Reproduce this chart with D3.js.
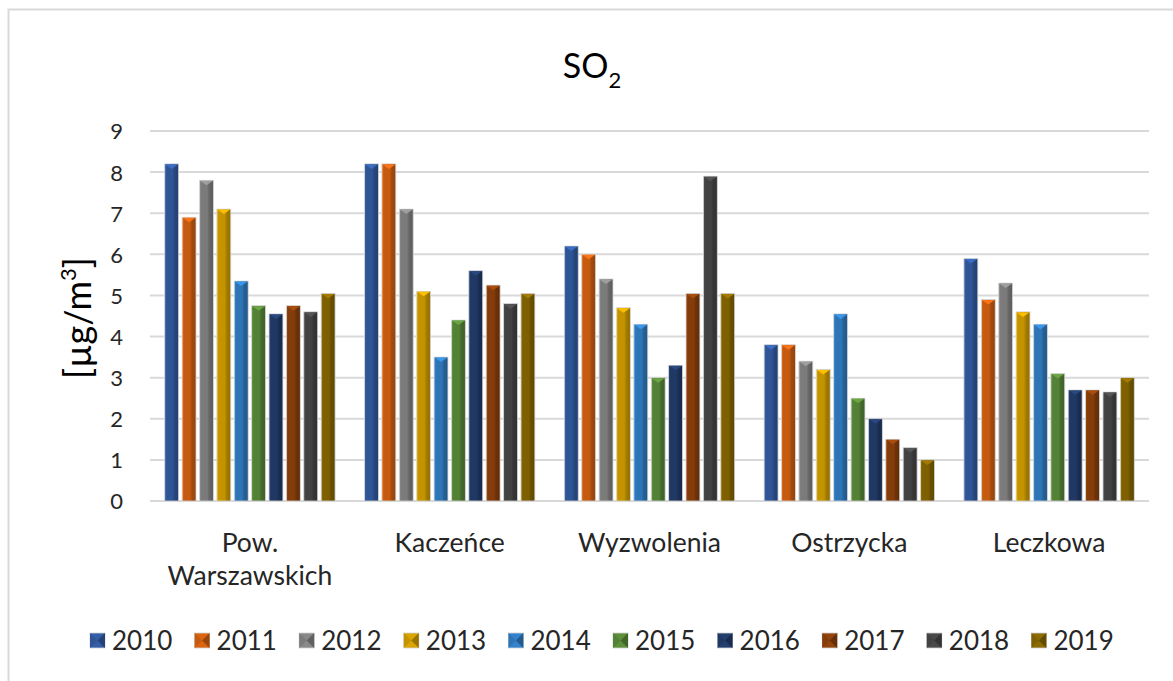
<!DOCTYPE html>
<html>
<head>
<meta charset="utf-8">
<script src="https://cdn.jsdelivr.net/npm/d3@7"></script>
<style>
html,body{margin:0;padding:0;background:#fff;}
svg{display:block;font-family:Lato, "Open Sans", sans-serif;}
</style>
</head>
<body>
<svg id="chart" width="1173" height="681"></svg>
<script>
// ---- data ----
const categories = ["Pow. Warszawskich", "Kaczeńce", "Wyzwolenia", "Ostrzycka", "Leczkowa"];
const years = ["2010","2011","2012","2013","2014","2015","2016","2017","2018","2019"];
const s2010 = [8.2, 8.2, 6.2, 3.8, 5.9];
const s2011 = [6.9, 8.2, 6.0, 3.8, 4.9];
const s2012 = [7.8, 7.1, 5.4, 3.4, 5.3];
const s2013 = [7.1, 5.1, 4.7, 3.2, 4.6];
const s2014 = [5.35, 3.5, 4.3, 4.55, 4.3];
const s2015 = [4.75, 4.4, 3.0, 2.5, 3.1];
const s2016 = [4.55, 5.6, 3.3, 2.0, 2.7];
const s2017 = [4.75, 5.25, 5.05, 1.5, 2.7];
const s2018 = [4.6, 4.8, 7.9, 1.3, 2.65];
const s2019 = [5.05, 5.05, 5.05, 1.0, 3.0];
const seriesValues = [s2010, s2011, s2012, s2013, s2014, s2015, s2016, s2017, s2018, s2019];
const colors = ["#2F5597","#C55A11","#7B7B7B","#C49400","#2E75B6","#538135","#203864","#843C0B","#424242","#7F6000"];
const yTicks = [0,1,2,3,4,5,6,7,8,9];

// ---- build ----
const svg = d3.select("#chart");
const defs = svg.append("defs");

// outer border
svg.append("rect").attr("x", 8.5).attr("y", 9.5).attr("width", 1200).attr("height", 700)
  .attr("fill", "none").attr("stroke", "#d9d9d9").attr("stroke-width", 2);

const x0 = d3.scaleBand().domain(categories).range([150, 1149]).paddingInner(0.13).paddingOuter(0.065);
const x1 = d3.scaleBand().domain(years).range([0, x0.bandwidth()]).paddingInner(0.2).paddingOuter(0.1);
const y = d3.scaleLinear().domain([0, 9]).range([501, 131]);

// gradients
years.forEach((yr, i) => {
  const c = d3.color(colors[i]);
  const g = defs.append("linearGradient").attr("id", "g" + yr)
    .attr("x1", "0%").attr("x2", "100%").attr("y1", "0%").attr("y2", "0%");
  [[0, c.brighter(0.5)], [0.14, c], [0.55, c], [0.72, c.darker(0.55)], [1, c.darker(0.8)]]
    .forEach(([o, col]) => g.append("stop").attr("offset", o).attr("stop-color", col.formatHex()));
});

// gridlines
const grid = svg.append("g").attr("class", "grid");
grid.selectAll("line").data(yTicks).join("line")
  .attr("x1", 150).attr("x2", 1149)
  .attr("y1", d => y(d)).attr("y2", d => y(d))
  .attr("stroke", "#d9d9d9").attr("stroke-width", 2);

// y axis labels
const yAxis = d3.axisLeft(y).tickValues(yTicks).tickSize(0).tickPadding(0);
const yg = svg.append("g").attr("transform", "translate(123,0)").call(yAxis);
yg.select(".domain").remove();
yg.selectAll("text").attr("font-size", 22).attr("fill", "#262626").attr("font-family", "Lato").attr("dy", "0.36em");

// bars
const groups = svg.append("g").selectAll("g").data(categories).join("g")
  .attr("transform", d => `translate(${x0(d)},0)`);
groups.each(function(cat, ci) {
  const gsel = d3.select(this);
  years.forEach((yr, si) => {
    const v = seriesValues[si][ci];
    const bx = x1(yr), bw = x1.bandwidth(), by = y(v), bh = y(0) - y(v);
    gsel.append("rect").attr("x", bx).attr("y", by).attr("width", bw).attr("height", bh)
      .attr("fill", `url(#g${yr})`).attr("stroke", "#d6d6d6").attr("stroke-width", 0.8);
    const c = d3.color(colors[si]);
    gsel.append("path")
      .attr("d", `M${bx+0.5},${by+0.5} L${bx+bw-0.5},${by+0.5} L${bx+bw/2},${by+5} Z`)
      .attr("fill", c.brighter(0.7).formatHex());
  });
});

// category labels
const catG = svg.append("g");
categories.forEach(cat => {
  const cx = x0(cat) + x0.bandwidth() / 2;
  const t = catG.append("text").attr("x", cx).attr("y", 552).attr("text-anchor", "middle")
    .attr("font-size", 26.5).attr("fill", "#262626").text(cat);
  if (t.node().getComputedTextLength() > x0.bandwidth()) {
    const words = cat.split(" ");
    t.text(null);
    words.forEach((w, k) => {
      t.append("tspan").attr("x", cx).attr("dy", k === 0 ? 0 : "1.24em").text(w);
    });
  }
});

// title
const title = svg.append("text").attr("x", 592).attr("y", 78).attr("text-anchor", "middle")
  .attr("font-size", 34).attr("fill", "#000");
title.append("tspan").text("SO");
title.append("tspan").attr("font-size", 22).attr("dy", 10).text("2");

// y label
const yl = svg.append("text").attr("transform", "translate(91,318) rotate(-90)")
  .attr("text-anchor", "middle").attr("font-size", 36).attr("fill", "#000");
yl.append("tspan").text("[µg/m");
yl.append("tspan").attr("font-size", 22).attr("dy", -15).text("3");
yl.append("tspan").attr("dy", 15).text("]");

// legend
const lg = svg.append("g");
years.forEach((yr, i) => {
  const lx = 90 + i * 104.6, ly = 633;
  const c = d3.color(colors[i]);
  const s = 15;
  lg.append("rect").attr("x", lx).attr("y", ly).attr("width", s).attr("height", s)
    .attr("fill", c.brighter(0.3).formatHex()).attr("stroke", "#d0d0d0").attr("stroke-width", 0.8);
  lg.append("path").attr("d", `M${lx},${ly} L${lx+s/2},${ly+s/2} L${lx},${ly+s} Z`).attr("fill", c.formatHex());
  lg.append("path").attr("d", `M${lx+s},${ly} L${lx+s/2},${ly+s/2} L${lx+s},${ly+s} Z`).attr("fill", c.darker(0.7).formatHex());
  lg.append("text").attr("x", lx + 22).attr("y", 650).attr("font-size", 26).attr("fill", "#262626").text(yr);
});
</script>
</body>
</html>
